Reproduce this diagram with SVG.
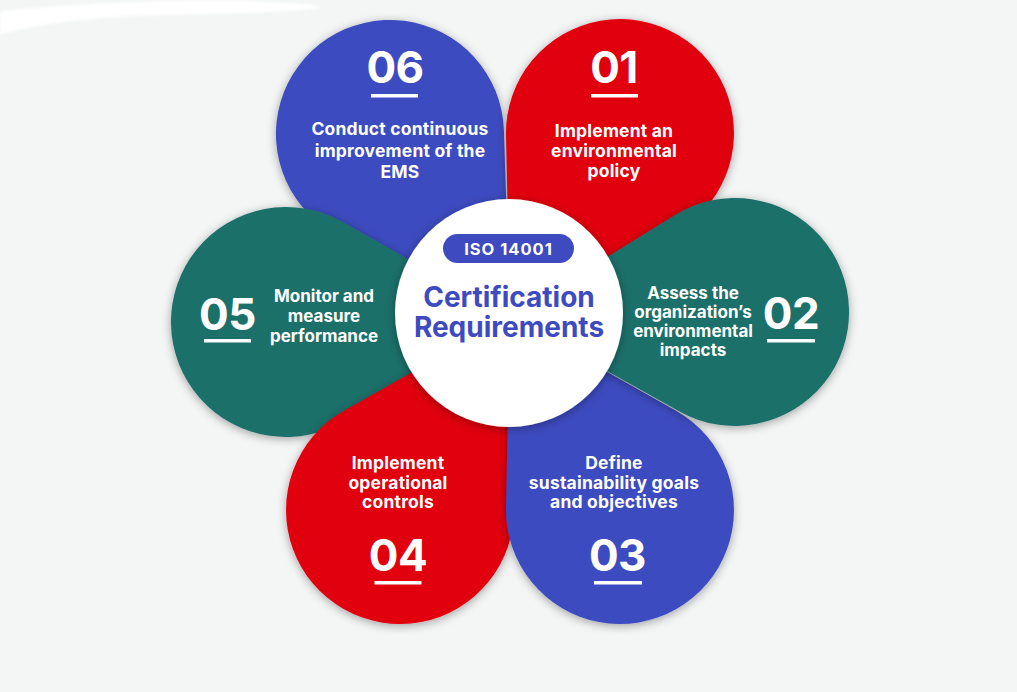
<svg xmlns="http://www.w3.org/2000/svg" width="1017" height="692" viewBox="0 0 1017 692">
  <defs>
    <filter id="sh" x="-20%" y="-20%" width="140%" height="140%">
      <feDropShadow dx="0" dy="2" stdDeviation="5" flood-color="#000" flood-opacity="0.35"/>
    </filter>
    <filter id="blur" x="-10%" y="-50%" width="120%" height="200%">
      <feGaussianBlur stdDeviation="1.5"/>
    </filter>
    <style>
      .blue{fill:#3e4bc0}
      .red{fill:#e10011}
      .teal{fill:#1f6f6b}
      .lbl{font-family:Inter,"Liberation Sans",sans-serif;font-weight:700;fill:#fff;text-anchor:middle;font-size:17.5px;letter-spacing:0.2px}
      .lbl2{font-family:Inter,"Liberation Sans",sans-serif;font-weight:700;fill:#fff;text-anchor:middle;font-size:17px}
      .num{font-family:Inter,"Liberation Sans",sans-serif;font-weight:700;fill:#fff;text-anchor:middle;font-size:44px;letter-spacing:-0.5px}
      .bar{fill:#fff}
      .title{font-family:Inter,"Liberation Sans",sans-serif;font-weight:700;fill:#3e4bc0;text-anchor:middle;font-size:28px}
    </style>
  </defs>
  <rect width="1017" height="692" fill="#f4f6f6"/>
  <path d="M0,12 C60,4 160,0 240,1 C280,2 310,4 322,7 C300,12 220,14 150,15 C90,17 40,24 0,34 Z" fill="#ffffff" filter="url(#blur)"/>

  <g id="petal-06" filter="url(#sh)">
    <path class="blue" d="M510 317 L503.9 130.3 A114 114 0 1 0 341.2 237 Z"/>
  </g>
  <g id="petal-01" filter="url(#sh)">
    <path class="red" d="M510 317 L671.8 234.6 A114 114 0 1 0 506 135.5 Z"/>
  </g>
  <g id="petal-05" filter="url(#sh)">
    <path class="teal" d="M510 317 L342.8 222 A115 115 0 1 0 347.2 419.3 Z"/>
  </g>
  <g id="petal-04" filter="url(#sh)">
    <path class="red" d="M510 317 L344 410.7 A114 114 0 1 0 514 507.6 Z"/>
  </g>
  <g id="petal-03" filter="url(#sh)">
    <path class="blue" d="M510 317 L506 507.6 A114 114 0 1 0 676 410.7 Z"/>
  </g>
  <g id="petal-02" filter="url(#sh)">
    <path class="teal" d="M510 317 L679.5 411.5 A114 114 0 1 0 675.1 215 Z"/>
  </g>

  <g id="center">
    <circle cx="509" cy="313" r="114" fill="#ffffff" filter="url(#sh)"/>
    <rect x="443" y="234" width="131" height="29" rx="14.5" class="blue"/>
    <text x="508.5" y="255" class="lbl" style="font-size:16.5px;letter-spacing:1px">ISO 14001</text>
    <text x="509" y="307" class="title">Certification</text>
    <text x="509" y="337" class="title">Requirements</text>
  </g>

  <g id="label-06">
    <text x="395" y="83" class="num">06</text>
    <rect x="371" y="94" width="47" height="3.5" class="bar"/>
    <text x="400" y="135" class="lbl">Conduct continuous</text>
    <text x="400" y="156.5" class="lbl">improvement of the</text>
    <text x="400" y="178" class="lbl">EMS</text>
  </g>
  <g id="label-01">
    <text x="614" y="83" class="num">01</text>
    <rect x="591" y="94" width="47" height="3.5" class="bar"/>
    <text x="614" y="136.5" class="lbl">Implement an</text>
    <text x="614" y="157" class="lbl">environmental</text>
    <text x="614" y="177" class="lbl">policy</text>
  </g>
  <g id="label-02">
    <text x="791" y="328.5" class="num">02</text>
    <rect x="767" y="339" width="48" height="3.5" class="bar"/>
    <text x="693" y="298.5" class="lbl2">Assess the</text>
    <text x="693" y="317.5" class="lbl2">organization’s</text>
    <text x="693" y="336.5" class="lbl2">environmental</text>
    <text x="693" y="355.5" class="lbl2">impacts</text>
  </g>
  <g id="label-05">
    <text x="227.5" y="329.5" class="num">05</text>
    <rect x="204" y="339" width="47" height="3.5" class="bar"/>
    <text x="324" y="302" class="lbl2">Monitor and</text>
    <text x="324" y="322" class="lbl2">measure</text>
    <text x="324" y="342" class="lbl2">performance</text>
  </g>
  <g id="label-04">
    <text x="398" y="468.5" class="lbl">Implement</text>
    <text x="398" y="488.5" class="lbl">operational</text>
    <text x="398" y="507.5" class="lbl">controls</text>
    <text x="398" y="571" class="num">04</text>
    <rect x="374.5" y="581" width="47" height="3.5" class="bar"/>
  </g>
  <g id="label-03">
    <text x="614" y="468.5" class="lbl">Define</text>
    <text x="614" y="488.5" class="lbl">sustainability goals</text>
    <text x="614" y="507.5" class="lbl">and objectives</text>
    <text x="617.5" y="571" class="num">03</text>
    <rect x="594" y="581" width="48" height="3.5" class="bar"/>
  </g>
</svg>
